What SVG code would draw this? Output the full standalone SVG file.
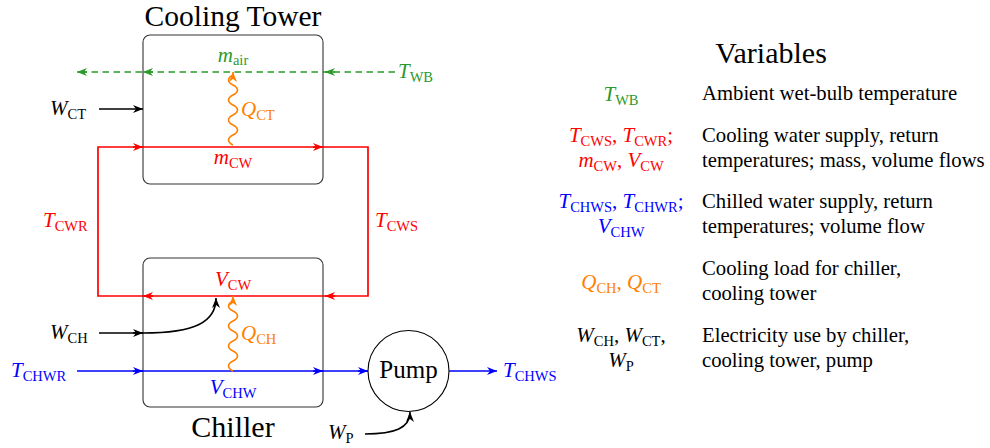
<svg xmlns="http://www.w3.org/2000/svg" width="990" height="448" viewBox="0 0 990 448" font-family="Liberation Serif, DejaVu Serif, serif">
<style>
text{font-family:Liberation Serif,DejaVu Serif,serif;fill:#000}
.title{font-size:30px;text-anchor:middle}
.body{font-size:20.7px}
.m{font-size:21px}
.mid{text-anchor:middle}
.i{font-style:italic}
.s{font-size:14.5px}
.box{fill:none;stroke:#333;stroke-width:1.1}
.red{stroke:#ff0000;fill:none;stroke-width:1.7}
.blue{stroke:#0000ff;fill:none;stroke-width:1.7}
.green{stroke:#2a9a2a;fill:none;stroke-width:1.5;stroke-dasharray:6.5 4.5}
.blk{stroke:#000;fill:none;stroke-width:1.6}
.org{stroke:#ff8000;fill:none;stroke-width:1.6}
.tr{fill:#ff0000}.tb{fill:#0000ff}.tg{fill:#2a9a2a}.to{fill:#ff8000}
</style>
<defs>
<marker id="aR" viewBox="0 0 10 10" refX="10" refY="5" markerWidth="10" markerHeight="10" markerUnits="userSpaceOnUse" orient="auto"><path d="M0,1 L10,5 L0,9 L3,5 z" fill="#ff0000"/></marker>
<marker id="aB" viewBox="0 0 10 10" refX="10" refY="5" markerWidth="10" markerHeight="10" markerUnits="userSpaceOnUse" orient="auto"><path d="M0,1 L10,5 L0,9 L3,5 z" fill="#0000ff"/></marker>
<marker id="aG" viewBox="0 0 10 10" refX="10" refY="5" markerWidth="10" markerHeight="10" markerUnits="userSpaceOnUse" orient="auto"><path d="M0,1 L10,5 L0,9 L3,5 z" fill="#2a9a2a"/></marker>
<marker id="aK" viewBox="0 0 10 10" refX="10" refY="5" markerWidth="10" markerHeight="10" markerUnits="userSpaceOnUse" orient="auto"><path d="M0,1 L10,5 L0,9 L3,5 z" fill="#000"/></marker>
<marker id="aO" viewBox="0 0 10 10" refX="10" refY="5" markerWidth="10" markerHeight="10" markerUnits="userSpaceOnUse" orient="auto"><path d="M0,1 L10,5 L0,9 L3,5 z" fill="#ff8000"/></marker>
</defs>

<g id="cooling-tower">
<rect class="box" x="143" y="35" width="180" height="149" rx="7"/>
<text class="title" x="233" y="26" style="font-size:29.5px">Cooling Tower</text>
</g>
<g id="chiller">
<rect class="box" x="143" y="258" width="180" height="149" rx="7"/>
<text class="title" x="233" y="437">Chiller</text>
</g>
<g id="pump">
<circle cx="408.5" cy="371" r="40.5" fill="none" stroke="#000" stroke-width="1.1"/>
<text x="408.5" y="378" style="font-size:25px;text-anchor:middle">Pump</text>
</g>

<g id="connectors">
<path class="green" d="M395,72 H78"/>
<path class="green" style="stroke-dasharray:none" d="M335,72 H325" marker-end="url(#aG)"/>
<path class="green" style="stroke-dasharray:none" d="M153,72 H143" marker-end="url(#aG)"/>
<path class="green" style="stroke-dasharray:none" d="M87,72 H77" marker-end="url(#aG)"/>
<path class="red" d="M98,147 H368 V296 H98 Z"/>
<path class="red" d="M133,147 H143" marker-end="url(#aR)"/>
<path class="red" d="M313,147 H323" marker-end="url(#aR)"/>
<path class="red" d="M335,296 H325" marker-end="url(#aR)"/>
<path class="red" d="M153,296 H143" marker-end="url(#aR)"/>
<path class="blue" d="M77,371 H368"/>
<path class="blue" d="M133,371 H143" marker-end="url(#aB)"/>
<path class="blue" d="M313,371 H323" marker-end="url(#aB)"/>
<path class="blue" d="M358,371 H368" marker-end="url(#aB)"/>
<path class="blue" d="M449,371 H497" marker-end="url(#aB)"/>
<path class="org" d="M233,145 C227,142 227,138 233,135 C239,132 239,128 233,125 C227,122 227,118 233,115 C239,112 239,108 233,105 C227,102 227,98 233,95 C239,92 239,88 233,85 C227,82 227,78 233,75 L233,72" marker-end="url(#aO)"/>
<path class="org" d="M233,371 C227,368 227,364 233,361 C239,358 239,354 233,351 C227,348 227,344 233,341 C239,338 239,334 233,331 C227,328 227,324 233,321 C239,318 239,314 233,311 C227,308 227,304 233,301 L233,296" marker-end="url(#aO)"/>
<path class="blk" d="M99,109 H143" marker-end="url(#aK)"/>
<path class="blk" d="M99,333 H143"/>
<path class="blk" d="M133,333 H143" marker-end="url(#aK)"/>
<path class="blk" d="M143,333 C195,333 216,322 216,298" marker-end="url(#aK)"/>
<path class="blk" d="M365,434 C395,434 410,428 410,412" marker-end="url(#aK)"/>
</g>

<g id="labels">
<text class="m tg mid" x="233" y="62"><tspan class="i">m</tspan><tspan class="s" dy="3">air</tspan></text>
<text class="m tg" x="398" y="78"><tspan class="i">T</tspan><tspan class="s" dy="4">WB</tspan></text>
<text class="m" x="50" y="115"><tspan class="i">W</tspan><tspan class="s" dy="4">CT</tspan></text>
<text class="m to" x="241" y="116"><tspan class="i">Q</tspan><tspan class="s" dy="4">CT</tspan></text>
<text class="m tr mid" x="233" y="164"><tspan class="i">m</tspan><tspan class="s" dy="4">CW</tspan></text>
<text class="m tr" x="43" y="227"><tspan class="i">T</tspan><tspan class="s" dy="4">CWR</tspan></text>
<text class="m tr" x="375" y="227"><tspan class="i">T</tspan><tspan class="s" dy="4">CWS</tspan></text>
<text class="m tr mid" x="233" y="286"><tspan class="i">V</tspan><tspan class="s" dy="4">CW</tspan></text>
<text class="m" x="50" y="339"><tspan class="i">W</tspan><tspan class="s" dy="4">CH</tspan></text>
<text class="m to" x="241" y="340"><tspan class="i">Q</tspan><tspan class="s" dy="4">CH</tspan></text>
<text class="m tb" x="11" y="377"><tspan class="i">T</tspan><tspan class="s" dy="4">CHWR</tspan></text>
<text class="m tb mid" x="233" y="394"><tspan class="i">V</tspan><tspan class="s" dy="4">CHW</tspan></text>
<text class="m tb" x="503" y="377"><tspan class="i">T</tspan><tspan class="s" dy="4">CHWS</tspan></text>
<text class="m" x="328" y="439"><tspan class="i">W</tspan><tspan class="s" dy="4">P</tspan></text>
</g>

<g id="legend">
<text class="title" x="771" y="63">Variables</text>
<text class="m tg mid" x="621" y="101"><tspan class="i">T</tspan><tspan class="s" dy="4">WB</tspan></text>
<text class="body" x="702" y="100">Ambient wet-bulb temperature</text>
<text class="m tr mid" x="621" y="142"><tspan class="i">T</tspan><tspan class="s" dy="4">CWS</tspan><tspan dy="-4">, </tspan><tspan class="i">T</tspan><tspan class="s" dy="4">CWR</tspan><tspan dy="-4">;</tspan></text>
<text class="m tr mid" x="621" y="167"><tspan class="i">m</tspan><tspan class="s" dy="4">CW</tspan><tspan dy="-4">, </tspan><tspan class="i">V</tspan><tspan class="s" dy="4">CW</tspan></text>
<text class="body" x="702" y="142">Cooling water supply, return</text>
<text class="body" x="702" y="167">temperatures; mass, volume flows</text>
<text class="m tb mid" x="621" y="208"><tspan class="i">T</tspan><tspan class="s" dy="4">CHWS</tspan><tspan dy="-4">, </tspan><tspan class="i">T</tspan><tspan class="s" dy="4">CHWR</tspan><tspan dy="-4">;</tspan></text>
<text class="m tb mid" x="621" y="233"><tspan class="i">V</tspan><tspan class="s" dy="4">CHW</tspan></text>
<text class="body" x="702" y="208">Chilled water supply, return</text>
<text class="body" x="702" y="233">temperatures; volume flow</text>
<text class="m to mid" x="621" y="289"><tspan class="i">Q</tspan><tspan class="s" dy="4">CH</tspan><tspan dy="-4">, </tspan><tspan class="i">Q</tspan><tspan class="s" dy="4">CT</tspan></text>
<text class="body" x="702" y="275">Cooling load for chiller,</text>
<text class="body" x="702" y="300">cooling tower</text>
<text class="m mid" x="621" y="342"><tspan class="i">W</tspan><tspan class="s" dy="4">CH</tspan><tspan dy="-4">, </tspan><tspan class="i">W</tspan><tspan class="s" dy="4">CT</tspan><tspan dy="-4">,</tspan></text>
<text class="m mid" x="621" y="367"><tspan class="i">W</tspan><tspan class="s" dy="4">P</tspan></text>
<text class="body" x="702" y="342">Electricity use by chiller,</text>
<text class="body" x="702" y="367">cooling tower, pump</text>
</g>
</svg>
